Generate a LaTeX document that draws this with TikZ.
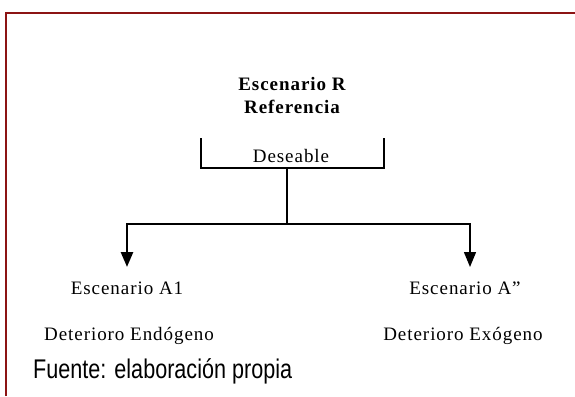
\documentclass[tikz,border=0pt]{standalone}
\usepackage{fontspec}
\setmainfont[LetterSpace=5]{Liberation Serif}
\newfontfamily\sourcefont[FakeStretch=0.8]{Liberation Sans}
\usepackage{xcolor}
\usepackage{tikz}
\usetikzlibrary{
  arrows.meta,
  positioning
}
\definecolor{FrameRed}{RGB}{140, 20, 20}
\tikzset{
    label text/.style={font=\fontsize{19}{19}\selectfont, inner sep=0pt, anchor=base, align=center},
    branch/.style={draw=black, line width=1.4pt},
    down arrow/.style={branch, -{Triangle[length=15pt, width=12pt]}},
}

\begin{document}
\begin{tikzpicture}[x=1pt, y=-1pt]
            \useasboundingbox (0,0) rectangle (575,396);
            % frame
            \draw[FrameRed, line width=2.6pt] (6,396) -- (6,13) -- (575,13);

            \node[label text, font=\fontsize{19}{19}\selectfont\bfseries] (titleR) at (292,90) {Escenario R};
            \node[label text, font=\fontsize{19}{19}\selectfont\bfseries] (refer) at (292,113) {Referencia};
            \node[label text] (wish) at (291,162) {Deseable};

            \coordinate (bracketL) at (201,138);
            \coordinate (bracketR) at (384,138);
            \coordinate (split) at (287,168);
            \coordinate (fork) at (287,224);
            \coordinate (tipA) at (127,267);
            \coordinate (tipB) at (470,267);

            \draw[branch] (bracketL) |- (split) -| (bracketR);
            \draw[branch] (split) -- (fork);
            \draw[down arrow, line width=2.6pt] (fork) -| (tipA);
            \draw[down arrow] (fork) -| (tipB);

            \node[label text] (sceneA) at (127,294) {Escenario A1};
            \node[label text] (sceneB) at (465,294) {Escenario A''};
            \node[label text] (decayA) at (129,340) {Deterioro Endógeno};
            \node[label text] (decayB) at (463,340) {Deterioro Exógeno};

            \node[anchor=base west, inner sep=0pt, font=\sourcefont\fontsize{27}{27}\selectfont] (source) at (33,378) {Fuente: elaboración propia};
        \end{tikzpicture}
\end{document}
